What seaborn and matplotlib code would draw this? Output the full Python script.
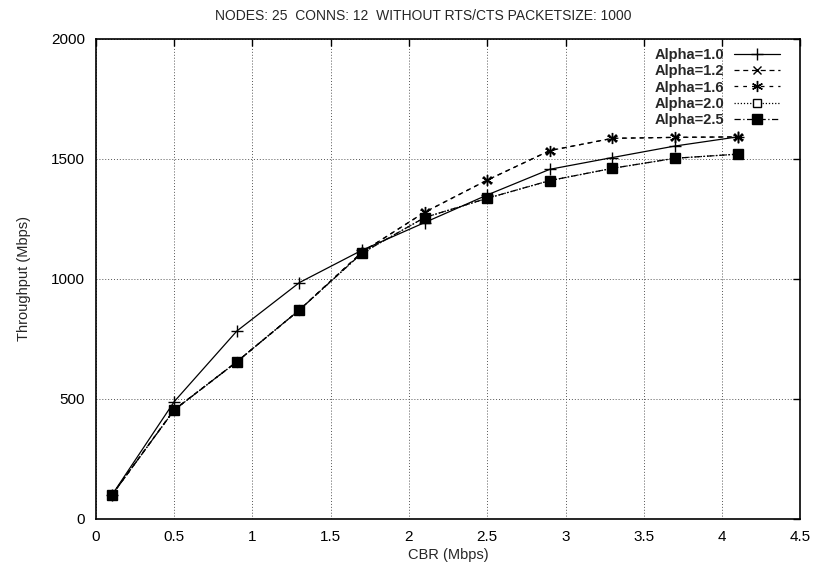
import matplotlib
matplotlib.use("Agg")
import matplotlib.pyplot as plt
import seaborn as sns
import pandas as pd

cbr = [0.1, 0.5, 0.9, 1.3, 1.7, 2.1, 2.5, 2.9, 3.3, 3.7, 4.1]
alpha_10 = [98, 489, 783, 985, 1120, 1235, 1350, 1457, 1506, 1554, 1592]
alpha_12 = [98, 455, 655, 871, 1112, 1278, 1412, 1535, 1586, 1590, 1592]
alpha_16 = [98, 455, 655, 871, 1112, 1278, 1412, 1535, 1586, 1590, 1592]
alpha_20 = [98, 454, 655, 871, 1108, 1256, 1336, 1410, 1461, 1503, 1520]
alpha_25 = [98, 454, 655, 871, 1108, 1256, 1336, 1410, 1461, 1503, 1520]
labels = ["Alpha=1.0", "Alpha=1.2", "Alpha=1.6", "Alpha=2.0", "Alpha=2.5"]
series = [alpha_10, alpha_12, alpha_16, alpha_20, alpha_25]
xticks = [0, 0.5, 1, 1.5, 2, 2.5, 3, 3.5, 4, 4.5]
yticks = [0, 500, 1000, 1500, 2000]

sns.set_style("white")
plt.rcParams['font.family'] = ['Liberation Sans', 'DejaVu Sans']

fig = plt.figure(figsize=(8.17, 5.69), dpi=100)
ax = fig.add_axes([0.1175, 0.088, 0.862, 0.8435])

styles = [
    dict(marker="+", linestyle="-", markersize=8, mfc="black"),
    dict(marker="x", linestyle=(0, (4, 3)), markersize=6, mfc="black"),
    dict(marker=(6, 2, 0), linestyle=(0, (3, 4)), markersize=8, mfc="black"),
    dict(marker="s", linestyle=(0, (1, 1.5)), markersize=6, mfc="white"),
    dict(marker="s", linestyle=(0, (5, 2, 1, 2)), markersize=7.5, mfc="black"),
]

for lab, vals, st in zip(labels, series, styles):
    df = pd.DataFrame({"CBR": cbr, "Throughput": vals})
    sns.lineplot(data=df, x="CBR", y="Throughput", ax=ax, color="black",
                 linewidth=0.9, marker=st["marker"], linestyle=st["linestyle"],
                 markersize=st["markersize"], markerfacecolor=st["mfc"],
                 markeredgecolor="black", markeredgewidth=1.0, label=lab)

ax.set_xlim(0, 4.5)
ax.set_ylim(0, 2000)
ax.set_xticks(xticks)
ax.set_xticklabels([("%g" % t) for t in xticks])
ax.set_yticks(yticks)
ax.grid(True, color="#555555", linestyle=(0, (1, 2)), linewidth=0.7)
ax.tick_params(direction="in", length=5, width=1, top=True, right=True,
               labelsize=11, pad=8, colors="black")
for s in ax.spines.values():
    s.set_color("black")
    s.set_linewidth(1.2)

ax.set_xlabel("CBR (Mbps)", fontsize=10.5, labelpad=3)
ax.set_ylabel("Throughput (Mbps)", fontsize=10.5, labelpad=14)
fig.suptitle("NODES: 25  CONNS: 12  WITHOUT RTS/CTS PACKETSIZE: 1000",
             fontsize=10, x=0.518, y=0.985)

leg = ax.legend(loc="upper right", frameon=False, markerfirst=False,
                fontsize=10.5, handlelength=3.1, labelspacing=0.15,
                bbox_to_anchor=(0.977, 0.99), borderaxespad=0.0,
                handletextpad=0.7, borderpad=0.3)
for t in leg.get_texts():
    t.set_fontweight("bold")

fig.savefig("out.png", dpi=100)
